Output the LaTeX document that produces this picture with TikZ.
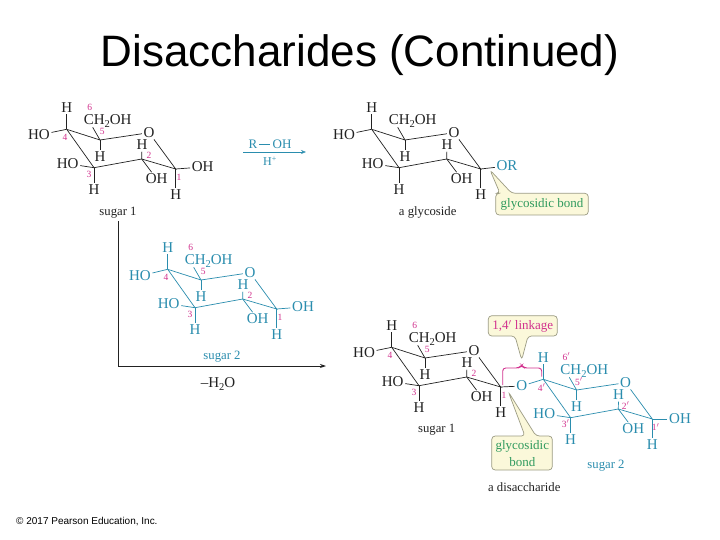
\documentclass[tikz,border=0pt]{standalone}
\usepackage{fontspec}
\setmainfont{Liberation Serif}
\newfontfamily\arialf{Liberation Sans}
\usetikzlibrary{arrows.meta}
\definecolor{tealc}{HTML}{2A8DAE}
\definecolor{magc}{HTML}{D2328E}
\definecolor{inkc}{HTML}{222222}
\definecolor{greenc}{HTML}{2F9A5E}
\definecolor{boxf}{HTML}{FBF8DA}
\definecolor{boxd}{HTML}{9C9C84}
\newcommand{\sbt}[1]{\raisebox{-2.6pt}{\fontsize{10.5}{11}\selectfont #1}}
\tikzset{
  x=1pt,y=-1pt,
  atom/.style={inner sep=1.5pt,yshift=-1pt,font=\fontsize{15}{16}\selectfont},
  numlab/.style={inner sep=0pt,text=magc,font=\fontsize{9.5}{10}\selectfont},
  capt/.style={inner sep=0pt,yshift=-1pt,font=\fontsize{12.7}{14}\selectfont,text=#1},
  bond/.style={line width=0.7pt},
  callout/.style={draw=boxd,fill=boxf,line width=0.7pt,rounded corners=3.5pt},
  calltext/.style={inner sep=0pt,yshift=-0.5pt,font=\fontsize{13}{15}\selectfont},
  rule/.style={line width=0.9pt,draw=inkc,-{Stealth[length=6pt,width=4pt]}}
}
% #1 prefix, #2 x, #3 y, #4 colour
\newcommand{\ringcore}[4]{%
  \begin{scope}[shift={(#2,#3)},text=#4]
    \coordinate (#1c4) at (0,0);
    \coordinate (#1c5) at (33.3,10.7);
    \coordinate (#1c1) at (109,39.7);
    \coordinate (#1c2) at (75,29.7);
    \coordinate (#1c3) at (27.3,38.4);
    \coordinate (#1chb) at (26,-2);
    \node[atom] (#1o) at (82.3,2.4) {O};
    \node[atom] (#1hf) at (0,-22.6) {H};
    \node[atom] (#1ch) at (41,-9.3) {CH\sbt{2}OH};
    \node[atom] (#1hg) at (33.3,26.4) {H};
    \node[atom] (#1hb) at (75.3,14.7) {H};
    \node[atom] (#1oh) at (90,48.7) {OH};
    \node[atom] (#1hd) at (27.3,59.7) {H};
    \node[atom] (#1he) at (109,64.7) {H};
    \node[atom] (#1ho) at (1,33.4) {HO};
    \draw[bond,draw=#4] (#1c4) -- (#1c5) -- (#1o) -- (#1c1) -- (#1c2) -- (#1c3) -- (#1c4);
    \draw[bond,draw=#4] (#1c4) -- (#1hf);
    \draw[bond,draw=#4] (#1c5) -- (#1chb);
    \draw[bond,draw=#4] (#1c5) -- (#1hg);
    \draw[bond,draw=#4] (#1c2) -- (#1hb);
    \draw[bond,draw=#4] (#1c2) -- (#1oh);
    \draw[bond,draw=#4] (#1c3) -- (#1hd);
    \draw[bond,draw=#4] (#1c3) -- (#1ho);
    \draw[bond,draw=#4] (#1c1) -- (#1he);
  \end{scope}}
% #1 prefix, #2 x, #3 y, #4 prime
\newcommand{\ringnums}[4]{%
  \begin{scope}[shift={(#2,#3)}]
    \node[numlab] (#1n6) at (23,-22.3) {6#4};
    \node[numlab] (#1n5) at (35.5,2.6) {5#4};
    \node[numlab] (#1n4) at (-1.7,8.4) {4#4};
    \node[numlab] (#1n3) at (22.3,44.7) {3#4};
    \node[numlab] (#1n2) at (82.3,26.4) {2#4};
    \node[numlab] (#1n1) at (112.3,47.7) {1#4};
  \end{scope}}
\begin{document}
\begin{tikzpicture}
\useasboundingbox (0,0) rectangle (720,540);
\fill[white] (0,0) rectangle (720,540);

\node[inner sep=0pt,font=\arialf\fontsize{44}{48}\selectfont,text=black] (title) at (360,55) {Disaccharides (Continued)};
\node[inner sep=0pt,anchor=west,font=\arialf\fontsize{10}{11}\selectfont,text=black] (copy) at (16,521.5) {© 2017 Pearson Education, Inc.};

% sugar 1 (top left)
\ringcore{a}{66.7}{129.3}{inkc}
\ringnums{a}{66.7}{129.3}{}
\node[atom,text=inkc] (aho4) at (39,134) {HO};
\node[atom,text=inkc] (aoh1) at (202.7,166) {OH};
\draw[bond,draw=inkc] (ac4) -- (aho4);
\draw[bond,draw=inkc] (ac1) -- (aoh1);
\node[capt=inkc] (alab) at (118,211.7) {sugar 1};

% reagent arrow
\node[inner sep=0pt,font=\fontsize{13}{14}\selectfont,text=tealc] (reag) at (270,144) {R\,\rule[3.2pt]{11pt}{0.7pt}\,OH};
\node[inner sep=0pt,font=\fontsize{12}{14}\selectfont,text=tealc] (cat) at (270,161.5) {H\textsuperscript{+}};
\coordinate (arrL) at (243,152);
\coordinate (arrR) at (306,152);
\draw[draw=tealc,line width=0.6pt,-{Stealth[length=5pt,width=4pt,open]}] (arrL) -- (arrR);

% glycoside (top right)
\ringcore{b}{371.7}{129.3}{inkc}
\node[atom,text=inkc] (bho4) at (344,134) {HO};
\node[atom,text=tealc] (bor) at (507,165) {OR};
\draw[bond,draw=inkc] (bc4) -- (bho4);
\draw[bond,draw=inkc] (bc1) -- (bor);
\node[capt=inkc] (blab) at (427.7,211) {a glycoside};
\draw[callout] (495.7,193.3) -- (500,193.3) -- (490,170) -- (511.7,193.3) -- (588.3,193.3) -- (588.3,215) -- (495.7,215) -- cycle;
\node[calltext,text=greenc] (bbond) at (542,203.5) {glycosidic bond};

% sugar 2 (middle)
\ringcore{c}{167.7}{269.3}{tealc}
\ringnums{c}{167.7}{269.3}{}
\node[atom,text=tealc] (cho4) at (140,275) {HO};
\node[atom,text=tealc] (coh1) at (303,306) {OH};
\draw[bond,draw=tealc] (cc4) -- (cho4);
\draw[bond,draw=tealc] (cc1) -- (coh1);
\node[capt=tealc] (clab) at (222,356) {sugar 2};

% loss of water connector
\coordinate (lossEnd) at (326,366);
\draw[rule] (alab.south) ++(0,3) |- (lossEnd);
\node[inner sep=0pt,yshift=-1pt,font=\fontsize{15}{16}\selectfont,text=inkc] (water) at (218,383) {--H\sbt{2}O};

% disaccharide, left ring
\ringcore{d}{391.7}{347.3}{inkc}
\ringnums{d}{391.7}{347.3}{}
\node[atom,text=inkc] (dho4) at (364,352) {HO};
\draw[bond,draw=inkc] (dc4) -- (dho4);
\node[capt=inkc] (dlab) at (436.7,429) {sugar 1};

% disaccharide, right ring
\ringcore{e}{543.3}{379.3}{tealc}
\ringnums{e}{543.3}{379.3}{$'$}
\node[atom,text=tealc] (eo) at (521.7,385) {O};
\node[atom,text=tealc] (eoh1) at (680,418) {OH};
\draw[bond,draw=inkc] (dc1) -- (eo);
\draw[bond,draw=tealc] (eo) -- (ec4);
\draw[bond,draw=tealc] (ec1) -- (eoh1);
\node[capt=tealc] (elab) at (606,465) {sugar 2};

% 1,4' linkage callout and bracket
\coordinate (brL) at (502.7,385);
\coordinate (brR) at (541.7,376.7);
\coordinate (brM) at (521.7,365);
\draw[draw=magc,line width=0.9pt,rounded corners=3pt] (brL) -- (502.7,368) -- (519,368) -- (brM) -- (524,368) -- (541.7,368) -- (brR);
\draw[callout] (488.3,315.7) -- (557.3,315.7) -- (557.3,336) -- (528,336) -- (521.7,360) -- (515,336) -- (488.3,336) -- cycle;
\node[calltext,text=magc] (link) at (522.8,326) {1,4$'$ linkage};

% glycosidic bond callout
\draw[callout] (491.7,436) -- (525,436) -- (508.3,391.7) -- (536,436) -- (552.3,436) -- (552.3,470) -- (491.7,470) -- cycle;
\node[calltext,text=greenc] (dbond1) at (522.3,445.7) {glycosidic};
\node[calltext,text=greenc] (dbond2) at (522.3,461.5) {bond};

\node[capt=inkc] (total) at (524.3,485.7) {a disaccharide};
\end{tikzpicture}
\end{document}
